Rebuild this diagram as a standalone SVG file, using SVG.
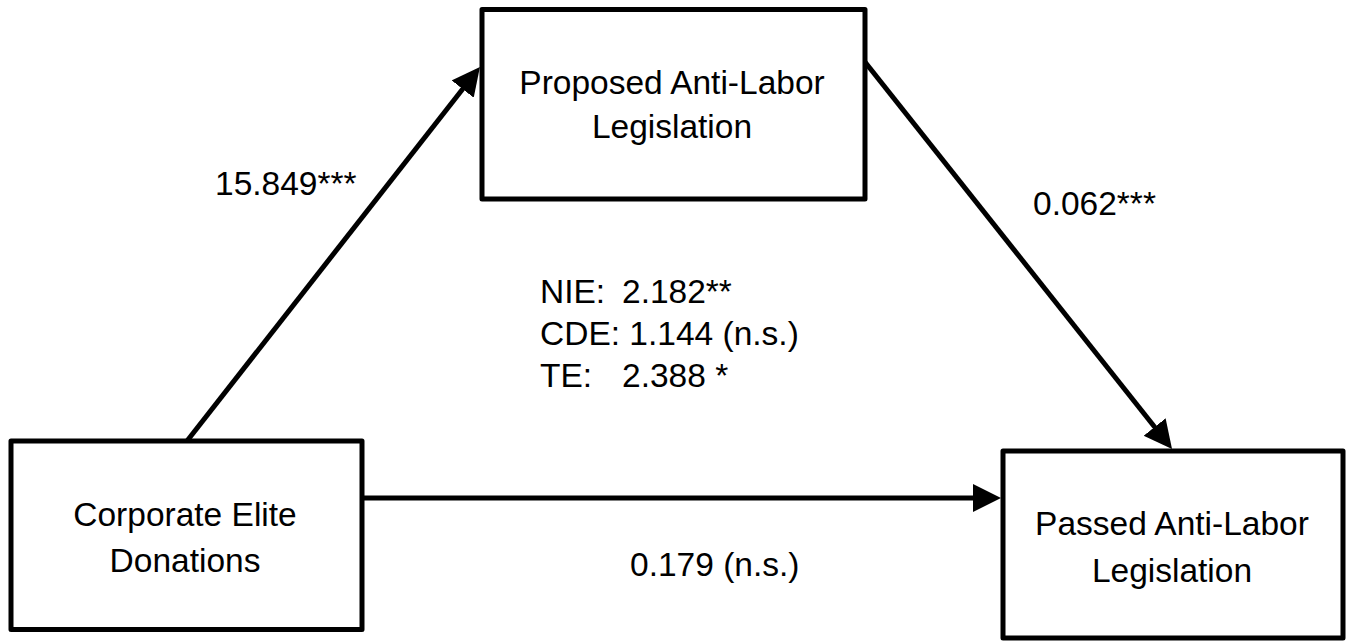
<svg xmlns="http://www.w3.org/2000/svg" width="1352" height="641" viewBox="0 0 1352 641">
  <style>
    .box { fill: #ffffff; stroke: #000000; stroke-width: 5; stroke-linejoin: round; }
    .edge { stroke: #000000; stroke-width: 5; fill: none; marker-end: url(#head); }
    .lbl { font-family: "Liberation Sans", Arial, sans-serif; font-size: 33.5px; fill: #000000; }
    .mid { text-anchor: middle; }
  </style>
  <defs>
    <marker id="head" markerUnits="userSpaceOnUse" markerWidth="30" markerHeight="30" refX="8" refY="14" orient="auto">
      <path d="M0,0 L28,14 L0,28 Z" fill="#000000"/>
    </marker>
  </defs>
  <rect width="1352" height="641" fill="#ffffff"/>

  <!-- connectors -->
  <g id="connectors">
    <line class="edge" x1="187" y1="441" x2="467.6" y2="82.7"/>
    <line class="edge" x1="865" y1="62" x2="1159.6" y2="433.3"/>
    <line class="edge" x1="364" y1="498" x2="981" y2="498"/>
  </g>

  <!-- path coefficients and effect summary -->
  <g id="labels">
    <text class="lbl" x="215" y="195">15.849***</text>
    <text class="lbl" x="1033" y="215">0.062***</text>
    <text class="lbl" x="630" y="576">0.179 (n.s.)</text>
    <text class="lbl" x="540" y="303">NIE:<tspan x="622">2.182**</tspan></text>
    <text class="lbl" x="540" y="345">CDE: 1.144 (n.s.)</text>
    <text class="lbl" x="540" y="387">TE:<tspan x="622">2.388 *</tspan></text>
  </g>

  <g id="node-proposed">
    <rect class="box" x="482" y="9.5" width="383" height="189.5"/>
    <text class="lbl mid" x="672" y="94">Proposed Anti-Labor</text>
    <text class="lbl mid" x="672" y="138">Legislation</text>
  </g>

  <g id="node-donations">
    <rect class="box" x="11" y="441" width="351" height="188.5"/>
    <text class="lbl mid" x="185" y="526">Corporate Elite</text>
    <text class="lbl mid" x="185" y="572">Donations</text>
  </g>

  <g id="node-passed">
    <rect class="box" x="1003" y="451" width="340" height="187"/>
    <text class="lbl mid" x="1172" y="535">Passed Anti-Labor</text>
    <text class="lbl mid" x="1172" y="582">Legislation</text>
  </g>
</svg>
